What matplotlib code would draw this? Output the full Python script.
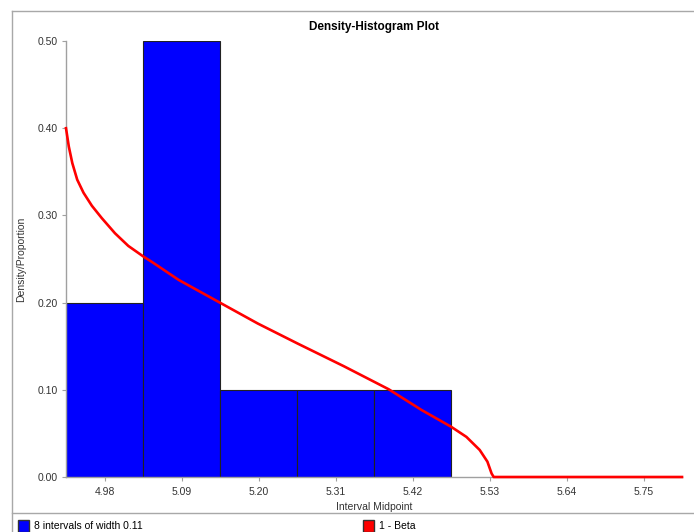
import matplotlib
matplotlib.use("Agg")
from matplotlib import pyplot as plt
from matplotlib.patches import Patch
from matplotlib.lines import Line2D
from matplotlib.ticker import FormatStrFormatter

plt.rcParams['font.family'] = ['Liberation Sans', 'DejaVu Sans']

# histogram: 8 intervals of width 0.11
midpoints = [4.98, 5.09, 5.20, 5.31, 5.42, 5.53, 5.64, 5.75]
proportions = [0.20, 0.50, 0.10, 0.10, 0.10, 0.00, 0.00, 0.00]
tick_labels = ['4.98', '5.09', '5.20', '5.31', '5.42', '5.53', '5.64', '5.75']
bin_width = 0.11

# fitted beta curve
beta_x = [4.925, 4.929, 4.934, 4.941, 4.950, 4.962, 4.976, 4.995, 5.014, 5.036,
          5.048, 5.086, 5.147, 5.199, 5.256, 5.322, 5.386, 5.433, 5.475, 5.497,
          5.516, 5.527, 5.533, 5.536, 5.805]
beta_y = [0.400, 0.379, 0.360, 0.341, 0.326, 0.311, 0.297, 0.2795, 0.265, 0.2526,
          0.2465, 0.226, 0.199, 0.176, 0.153, 0.127, 0.1006, 0.0768, 0.0577, 0.046,
          0.031, 0.0176, 0.004, 0.0, 0.0]

W, H = 694, 532
fig = plt.figure(figsize=(W / 100, H / 100), dpi=100)
ax = fig.add_axes([66 / W, 1 - 477 / H, (682 - 66) / W, (477 - 41) / H])

ax.bar(midpoints, proportions, width=bin_width, color='#0000ff',
       edgecolor='#222222', linewidth=[0.8 if p > 0 else 0 for p in proportions],
       zorder=2)
ax.plot(beta_x, beta_y, color='#ff0000', linewidth=1.9, zorder=3, clip_on=False,
        solid_joinstyle='round')

ax.set_xlim(4.925, 5.805)
ax.set_ylim(0, 0.5)
ax.set_xticks(midpoints)
ax.set_xticklabels(tick_labels)
ax.set_yticks([0, 0.1, 0.2, 0.3, 0.4, 0.5])
ax.yaxis.set_major_formatter(FormatStrFormatter('%.2f'))

for s in ['top', 'right']:
    ax.spines[s].set_visible(False)
for s in ['left', 'bottom']:
    ax.spines[s].set_color('#a0a0a0')
    ax.spines[s].set_linewidth(1.0)
ax.tick_params(axis='both', colors='#a0a0a0', labelcolor='#333333',
               labelsize=7.5, length=3, width=0.8)
ax.tick_params(axis='x', pad=4)
ax.tick_params(axis='y', pad=3)

ax.set_title('Density-Histogram Plot', fontsize=8.5, fontweight='bold', pad=8)
ax.set_xlabel('Interval Midpoint', fontsize=7.5, color='#333333', labelpad=4)
ax.set_ylabel('Density/Proportion', fontsize=7.5, color='#333333', labelpad=8)

# outer frame
frame_c = '#a8a8a8'
fig.add_artist(Line2D([12 / W, 1], [1 - 11 / H] * 2, transform=fig.transFigure,
                      color=frame_c, lw=1.0))
fig.add_artist(Line2D([12 / W] * 2, [0, 1 - 11 / H], transform=fig.transFigure,
                      color=frame_c, lw=1.0))
fig.add_artist(Line2D([12 / W, 1], [1 - 513 / H] * 2, transform=fig.transFigure,
                      color=frame_c, lw=1.0))

leg_kw = dict(loc='center left', frameon=False, fontsize=7.5, handlelength=1.1,
              handleheight=1.3, handletextpad=0.4, borderpad=0, borderaxespad=0)
fig.legend(handles=[Patch(facecolor='#0000ff', edgecolor='#333333',
                          label='8 intervals of width 0.11')],
           bbox_to_anchor=(18 / W, 1 - 526 / H), **leg_kw)
fig.legend(handles=[Patch(facecolor='#ff0000', edgecolor='#333333',
                          label='1 - Beta')],
           bbox_to_anchor=(363 / W, 1 - 526 / H), **leg_kw)

fig.savefig('out.png', dpi=100)
